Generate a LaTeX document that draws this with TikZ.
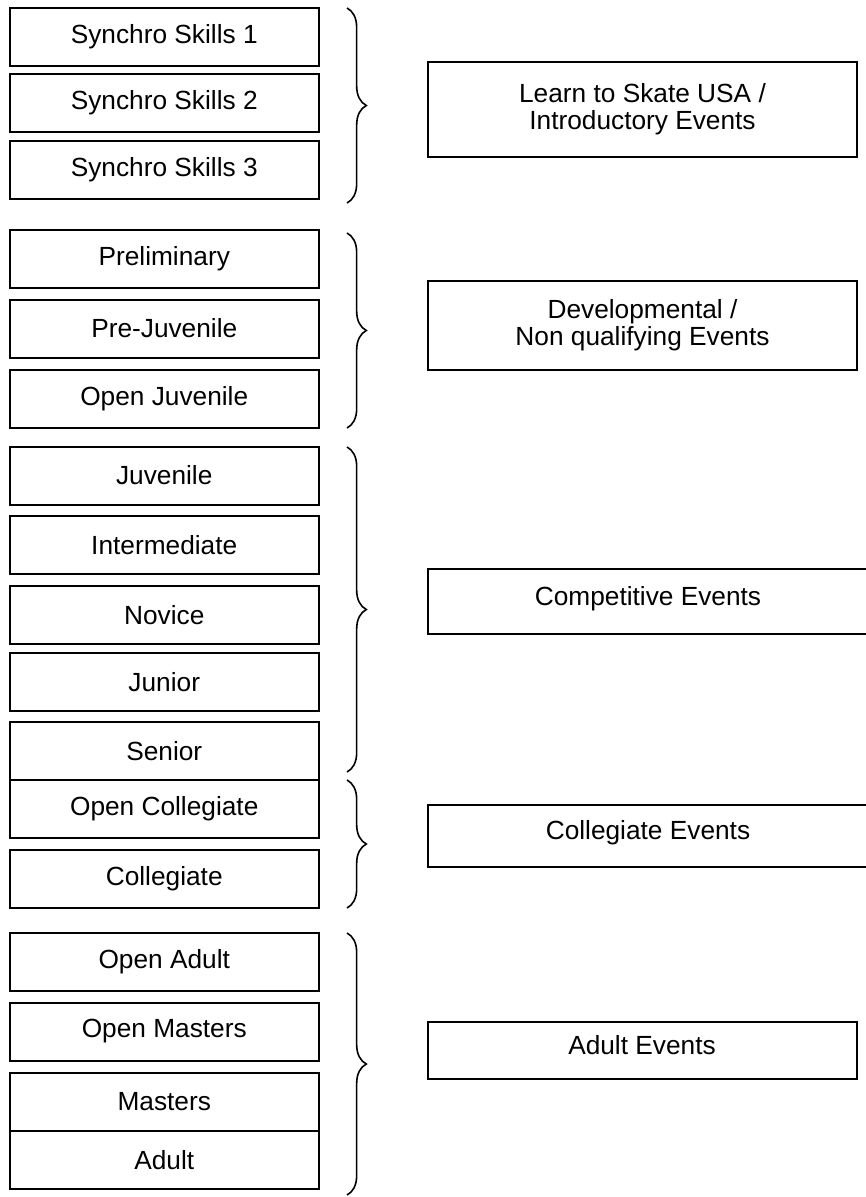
\documentclass[tikz,border=0pt]{standalone}
\usepackage{fontspec}
\setmainfont{Liberation Sans}
\usetikzlibrary{decorations.pathreplacing}

\tikzset{every picture/.style={line width=1.5pt}}
\tikzset{
  lvl/.style={draw, minimum width=232pt, minimum height=43.5pt, inner sep=0pt,
    font=\fontsize{19.7}{20.3}\selectfont},
  evt/.style={draw, minimum width=321.75pt, inner sep=0pt, align=center,
    font=\fontsize{19.7}{20.3}\selectfont},
  evtone/.style={evt, text depth=9pt},
  brc/.style={decorate, decoration={brace, amplitude=14.5pt}, line width=1.2pt}
}

\begin{document}
\begin{tikzpicture}[x=0.75pt,y=0.75pt,yscale=-1,xscale=1]
\useasboundingbox (0,0) rectangle (865,1197);

%Levels: introductory
\node[lvl] (ss1) at (164.25,36.5) {Synchro Skills 1};
\node[lvl] (ss2) at (164.25,102.5) {Synchro Skills 2};
\node[lvl] (ss3) at (164.25,169.5) {Synchro Skills 3};
%Levels: developmental
\node[lvl] (prel) at (164.25,258.5) {Preliminary};
\node[lvl] (prejuv) at (164.25,328.5) {Pre-Juvenile};
\node[lvl] (openjuv) at (164.25,398.5) {Open Juvenile};
%Levels: competitive
\node[lvl] (juv) at (164.25,475.5) {Juvenile};
\node[lvl] (inter) at (164.25,545) {Intermediate};
\node[lvl] (nov) at (164.25,615) {Novice};
\node[lvl] (jun) at (164.25,682) {Junior};
\node[lvl] (sen) at (164.25,751) {Senior};
%Levels: collegiate
\node[lvl] (opencol) at (164.25,808.5) {Open Collegiate};
\node[lvl] (col) at (164.25,878.5) {Collegiate};
%Levels: adult
\node[lvl] (openad) at (164.25,962) {Open Adult};
\node[lvl] (openmas) at (164.25,1031.5) {Open Masters};
\node[lvl] (mas) at (164.25,1101.5) {Masters};
\node[lvl] (ad) at (164.25,1160) {Adult};

%Braces
\draw[brc] (347,8) -- (347,203);
\draw[brc] (347,233) -- (347,428);
\draw[brc] (347,447) -- (347,772);
\draw[brc] (347,780) -- (347,908);
\draw[brc] (347,933) -- (347,1195);

%Event groups
\node[evt, minimum height=71.25pt] (lts) at (642.5,109.5) {Learn to Skate USA /\\Introductory Events};
\node[evt, minimum height=66.75pt] (dev) at (642.5,325.5) {Developmental /\\Non qualifying Events};
\node[evtone, minimum height=48.75pt, minimum width=330pt] (comp) at (648,601.5) {Competitive Events};
\node[evtone, minimum height=46.5pt, minimum width=330pt] (coll) at (648,836) {Collegiate Events};
\node[evtone, minimum height=42.75pt] (adev) at (642,1050.5) {Adult Events};

\end{tikzpicture}
\end{document}
